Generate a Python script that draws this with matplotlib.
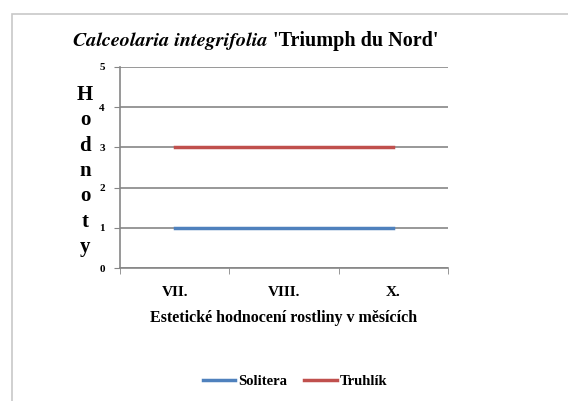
import matplotlib
matplotlib.use("Agg")
import matplotlib.pyplot as plt
from matplotlib.patches import Rectangle

months = ["VII.", "VIII.", "X."]
solitera = [1, 1, 1]
truhlik = [3, 3, 3]

plt.rcParams['font.family'] = ['Liberation Serif', 'DejaVu Serif']

W, H = 568, 401
fig = plt.figure(figsize=(W / 100, H / 100), dpi=100)

# outer chart frame (runs off the right and bottom edges)
fig.patches.append(Rectangle((12 / W, -0.1), 1.2, 1 - 14 / H + 0.1,
                             transform=fig.transFigure, fill=False,
                             edgecolor='#c8c8c8', linewidth=1.2))

ax = fig.add_axes([120 / W, 1 - 268 / H, (448 - 120) / W, (268 - 67) / H])

x = range(len(months))
ax.plot(x, solitera, color='#4F81BD', linewidth=2.5, label='Solitera', zorder=3)
ax.plot(x, truhlik, color='#C0504D', linewidth=2.5, label='Truhlík', zorder=3)

ax.set_xlim(-0.5, 2.5)
ax.set_ylim(0, 5)
ax.set_yticks(range(0, 6))
ax.set_xticks(x)
ax.set_xticklabels(months, fontsize=11, fontweight='bold')
ax.set_xticks([-0.5, 0.5, 1.5, 2.5], minor=True)
ax.tick_params(axis='x', which='major', length=0, pad=13)
ax.tick_params(axis='x', which='minor', length=4, color='#868686', direction='out')
ax.tick_params(axis='y', length=4, color='#868686', labelsize=8, pad=7)
for lab in ax.get_yticklabels():
    lab.set_fontweight('bold')

ax.grid(axis='y', color='#868686', linewidth=1.2)
ax.set_axisbelow(True)
for side in ['top', 'right']:
    ax.spines[side].set_visible(False)
for side in ['left', 'bottom']:
    ax.spines[side].set_color('#868686')
    ax.spines[side].set_linewidth(1.2)

ax.set_xlabel('Estetické hodnocení rostliny v měsících', fontsize=11.5,
              fontweight='bold', labelpad=8)

# vertical stacked y-axis label
fig.text(85 / W, 1 - 171 / H, '\n'.join('Hodnoty'), ha='center', va='center',
         fontsize=15, fontweight='bold', linespacing=1.36)

# title: italic species name followed by cultivar name, sharing one baseline
title_y = 1 - 46 / H
t1 = fig.text(73 / W, title_y, 'Calceolaria integrifolia', ha='left',
              va='baseline', fontsize=14.5, fontweight='bold', style='italic',
              family='STIXGeneral')
bb = t1.get_window_extent(renderer=fig.canvas.get_renderer())
fig.text(bb.x1 / W, title_y, " 'Triumph du Nord'", ha='left',
         va='baseline', fontsize=14.5, fontweight='bold')

fig.legend(loc='center', bbox_to_anchor=(295 / W, 1 - 381 / H), ncol=2,
           frameon=False, prop={'weight': 'bold', 'size': 10.5},
           handlelength=2.2, handletextpad=0.2, columnspacing=1.2)

fig.savefig('out.png', dpi=100)
